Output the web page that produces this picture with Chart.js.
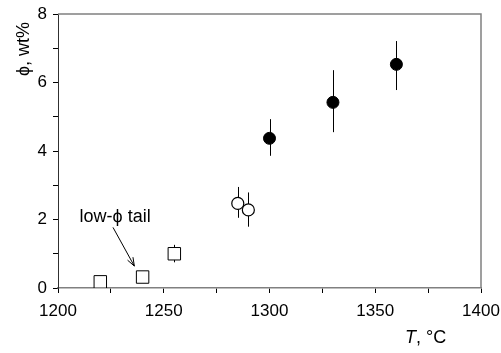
<!DOCTYPE html>
<html>
<head>
<meta charset="utf-8">
<script src="https://cdn.jsdelivr.net/npm/chart.js@4"></script>
<style>
  html, body { margin: 0; padding: 0; background: #fff; }
  #wrap { width: 501px; height: 353px; }
</style>
</head>
<body>
<div id="wrap"><canvas id="phiChart"></canvas></div>
<script>
// data: temperature (°C) vs phi (wt%), with error bar ends
const tailT   = [1220, 1240, 1255];
const tailPhi = [0.18, 0.32, 1.0];
const tailLo  = [null, null, 0.75];
const tailHi  = [null, null, 1.26];

const openT   = [1285, 1290];
const openPhi = [2.47, 2.28];
const openLo  = [2.05, 1.79];
const openHi  = [2.95, 2.79];

const fullT   = [1300, 1330, 1360];
const fullPhi = [4.37, 5.42, 6.53];
const fullLo  = [3.86, 4.55, 5.78];
const fullHi  = [4.93, 6.36, 7.21];

const xRange = [1200, 1400];
const yRange = [0, 8];

const FONT = 'Liberation Sans, Arial, Helvetica, sans-serif';

function pts(xs, ys, lo, hi) {
    return xs.map((x, i) => ({ x: x, y: ys[i], lo: lo[i], hi: hi[i] }));
}

// vertical error bars, drawn behind the markers
const errorBars = {
    id: 'errorBars',
    beforeDatasetsDraw(chart) {
        const ctx = chart.ctx;
        const xs = chart.scales.x, ys = chart.scales.y;
        ctx.save();
        ctx.strokeStyle = '#000';
        ctx.lineWidth = 1;
        chart.data.datasets.forEach(ds => {
            ds.data.forEach(p => {
                if (p.lo == null) return;
                const px = Math.round(xs.getPixelForValue(p.x)) + 0.5;
                ctx.beginPath();
                ctx.moveTo(px, ys.getPixelForValue(p.lo));
                ctx.lineTo(px, ys.getPixelForValue(p.hi));
                ctx.stroke();
            });
        });
        ctx.restore();
    }
};

// top/right frame, axis titles and the "low-phi tail" note
const extras = {
    id: 'extras',
    afterDraw(chart) {
        const ctx = chart.ctx;
        const a = chart.chartArea;
        const xs = chart.scales.x, ys = chart.scales.y;
        ctx.save();
        ctx.strokeStyle = '#808080';
        ctx.lineWidth = 1.5;
        ctx.beginPath();
        ctx.moveTo(a.left, a.top);
        ctx.lineTo(a.right, a.top);
        ctx.lineTo(a.right, a.bottom);
        ctx.stroke();

        ctx.fillStyle = '#000';
        // y title
        ctx.save();
        ctx.translate(29, 49);
        ctx.rotate(-Math.PI / 2);
        ctx.font = '18px ' + FONT;
        ctx.textAlign = 'center';
        ctx.textBaseline = 'alphabetic';
        ctx.fillText('\u03d5, wt%', 0, 0);
        ctx.restore();

        // x title with italic T
        ctx.textBaseline = 'alphabetic';
        ctx.textAlign = 'left';
        ctx.font = 'italic 18px ' + FONT;
        ctx.fillText('T', 405, 343);
        const tw = ctx.measureText('T').width;
        ctx.font = '18px ' + FONT;
        ctx.fillText(', \u00b0C', 405 + tw, 343);

        // annotation
        ctx.font = '18px ' + FONT;
        ctx.textAlign = 'center';
        ctx.fillText('low-\u03d5 tail', xs.getPixelForValue(1227), ys.getPixelForValue(1.93));

        const x0 = xs.getPixelForValue(1226), y0 = ys.getPixelForValue(1.77);
        const x1 = xs.getPixelForValue(1236.1), y1 = ys.getPixelForValue(0.64);
        ctx.strokeStyle = '#000';
        ctx.lineWidth = 1;
        ctx.beginPath();
        ctx.moveTo(x0, y0);
        ctx.lineTo(x1, y1);
        const ang = Math.atan2(y1 - y0, x1 - x0);
        const h = 9;
        ctx.moveTo(x1 - h * Math.cos(ang - 0.35), y1 - h * Math.sin(ang - 0.35));
        ctx.lineTo(x1, y1);
        ctx.lineTo(x1 - h * Math.cos(ang + 0.35), y1 - h * Math.sin(ang + 0.35));
        ctx.stroke();
        ctx.restore();
    }
};

const config = {
    type: 'scatter',
    data: {
        datasets: [
            {
                data: pts(tailT, tailPhi, tailLo, tailHi),
                pointStyle: 'rect',
                pointRadius: 8.8,
                pointHoverRadius: 8.8,
                backgroundColor: '#fff',
                borderColor: '#000',
                borderWidth: 1
            },
            {
                data: pts(openT, openPhi, openLo, openHi),
                pointStyle: 'circle',
                pointRadius: 6,
                pointHoverRadius: 6,
                backgroundColor: '#fff',
                borderColor: '#000',
                borderWidth: 1.2
            },
            {
                data: pts(fullT, fullPhi, fullLo, fullHi),
                pointStyle: 'circle',
                pointRadius: 6,
                pointHoverRadius: 6,
                backgroundColor: '#000',
                borderColor: '#000',
                borderWidth: 1
            }
        ]
    },
    options: {
        responsive: true,
        maintainAspectRatio: false,
        animation: false,
        layout: { padding: { top: 14, right: 20, left: 0, bottom: 0 } },
        plugins: {
            legend: { display: false },
            tooltip: { enabled: false }
        },
        scales: {
            x: {
                type: 'linear',
                min: xRange[0],
                max: xRange[1],
                afterFit(scale) {
                    scale.height = 65;
                    scale.paddingLeft = 0;
                    scale.paddingRight = 0;
                },
                ticks: {
                    stepSize: 25,
                    autoSkip: false,
                    maxRotation: 0,
                    color: '#000',
                    padding: 8,
                    font: { family: FONT, size: 17 },
                    callback: v => (v % 50 === 0 ? v : '')
                },
                grid: {
                    drawOnChartArea: false,
                    drawTicks: true,
                    tickLength: 5,
                    color: '#000'
                },
                border: { display: true, color: '#808080', width: 1.5 }
            },
            y: {
                min: yRange[0],
                max: yRange[1],
                afterFit(scale) {
                    scale.width = 58;
                    scale.paddingTop = 0;
                    scale.paddingBottom = 0;
                },
                ticks: {
                    stepSize: 1,
                    autoSkip: false,
                    color: '#000',
                    padding: 6,
                    font: { family: FONT, size: 17 },
                    callback: v => (v % 2 === 0 ? v : '')
                },
                grid: {
                    drawOnChartArea: false,
                    drawTicks: true,
                    tickLength: 5,
                    color: '#000'
                },
                border: { display: true, color: '#303030', width: 1 }
            }
        }
    },
    plugins: [errorBars, extras]
};

new Chart(document.getElementById('phiChart'), config);
</script>
</body>
</html>
